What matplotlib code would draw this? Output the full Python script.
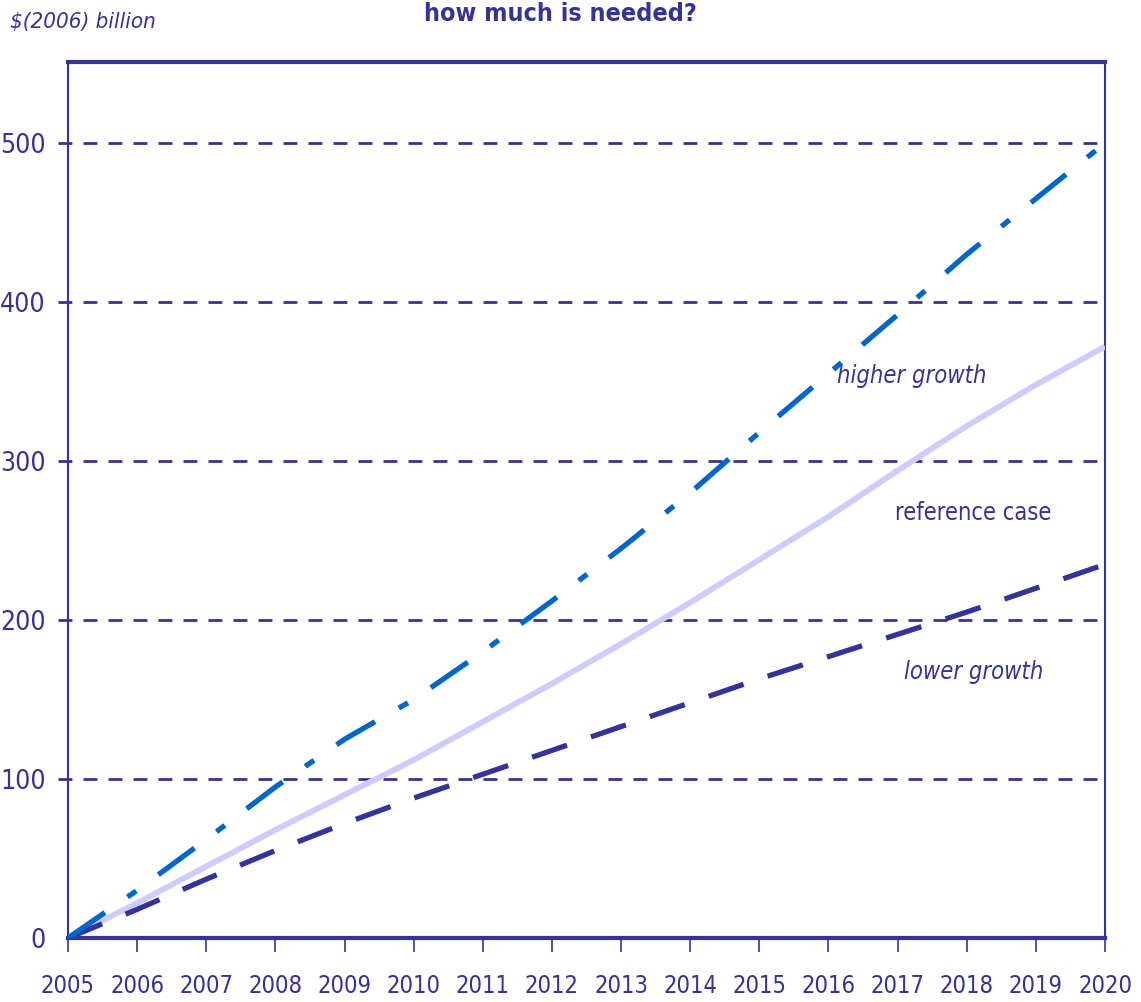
import matplotlib.pyplot as plt

# data
years = list(range(2005, 2021))
higher = [0, 30, 62, 95, 125, 150, 180, 212, 245, 280, 318, 355, 392, 430, 465, 500]
reference = [0, 22, 45, 68, 90, 112, 136, 160, 185, 211, 238, 265, 294, 322, 348, 372]
lower = [0, 18, 37, 55, 72, 88, 103, 118, 133, 148, 163, 177, 191, 205, 220, 235]
yticks = [0, 100, 200, 300, 400, 500]

plt.rcParams['font.family'] = ['DejaVu Sans']
plt.rcParams['font.stretch'] = 'condensed'

navy = '#333399'

fig = plt.figure(figsize=(11.41, 10.02), dpi=100)
ax = fig.add_axes([68 / 1141, 1 - 938 / 1002, (1105 - 68) / 1141, (938 - 62) / 1002])

ax.plot(years, reference, color='#ccccff', lw=4.2, solid_capstyle='butt', zorder=3)
ax.plot(years, lower, color=navy, lw=3.8, dashes=(7, 4.8), zorder=4)
ax.plot(years, higher, color='#0066cc', lw=3.8, dashes=(8.5, 5.2, 2, 5.2), zorder=5)

ax.set_xlim(2005, 2020)
ax.set_ylim(0, 551)
ax.set_xticks(years)
ax.set_yticks(yticks)
ax.tick_params(axis='x', direction='out', length=10, width=1.2, color=navy,
               labelcolor=navy, labelsize=17, pad=16)
ax.tick_params(axis='y', length=0, labelcolor=navy, labelsize=19, pad=16)

for y in yticks[1:]:
    ax.axhline(y, color=navy, lw=2, dashes=(5, 4), zorder=1, xmin=-0.01, clip_on=False)

for s in ['left', 'right']:
    ax.spines[s].set_color(navy)
    ax.spines[s].set_linewidth(1.5)
for s in ['top', 'bottom']:
    ax.spines[s].set_color(navy)
    ax.spines[s].set_linewidth(3)

ax.text(2017.2, 346, 'higher growth', color=navy, fontsize=17, style='italic', ha='center', va='bottom')
ax.text(2018.1, 260, 'reference case', color=navy, fontsize=17, ha='center', va='bottom')
ax.text(2018.1, 160, 'lower growth', color=navy, fontsize=17, style='italic', ha='center', va='bottom')

fig.text(10 / 1141, 1 - 22 / 1002, r'\$(2006) billion', color=navy, fontsize=16,
         style='italic', ha='left', va='center')
fig.text(560 / 1141, 1 - 14 / 1002, 'how much is needed?', color=navy, fontsize=18,
         weight='bold', ha='center', va='center')

fig.savefig('out.png', dpi=100)
